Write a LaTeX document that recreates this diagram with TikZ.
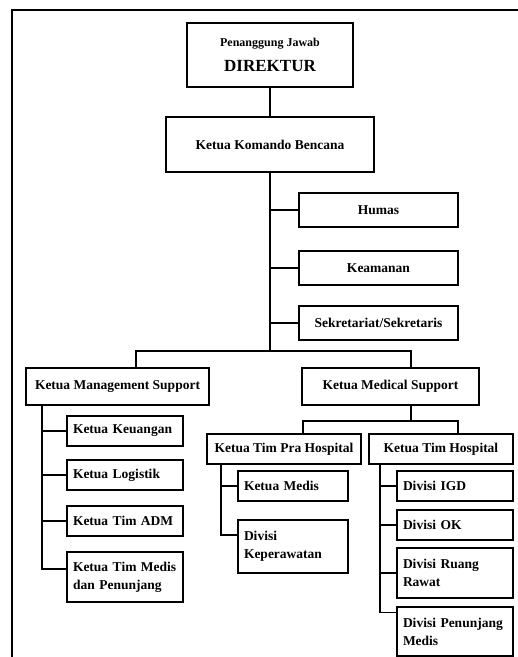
\documentclass[tikz,border=0pt]{standalone}
\usepackage{fontspec}
\setmainfont{Liberation Serif}

\begin{document}
\begin{tikzpicture}[
    x=1pt, y=-1pt,
    garis/.style={line width=1.4pt},
    kotak/.style={draw, line width=1.4pt, inner sep=3pt, align=center,
        font=\bfseries\fontsize{13.5}{18}\selectfont},
    staf/.style={kotak, minimum width=159, minimum height=34},
    kiri/.style={kotak, align=left, inner xsep=6pt, text width=#1}
]

% Cadre
\useasboundingbox (0,0) rectangle (518,657);
\draw[garis] (12,657) |- (518,10);

% Direction
\node[kotak, minimum width=166, minimum height=64] (dir) at (270,55)
    {{\fontsize{12}{14}\selectfont Penanggung Jawab}\\[7pt]{\fontsize{17}{20}\selectfont DIREKTUR}};
\node[kotak, minimum width=208, minimum height=55] (kom) at (270,144.5) {Ketua Komando Bencana};

% Staf
\node[staf] (hum) at (378.5,210) {Humas};
\node[staf] (kea) at (378.5,268) {Keamanan};
\node[staf] (sek) at (378.5,323) {Sekretariat/Sekretaris};

% Support
\node[kotak, minimum width=183, minimum height=37] (mgt) at (117.5,386.5) {Ketua Management Support};
\node[kotak, minimum width=177, minimum height=37] (med) at (390.5,386.5) {Ketua Medical Support};

% Management Support
\node[kiri=104pt, minimum height=30] (keu) at (125,431) {Ketua Keuangan};
\node[kiri=104pt, minimum height=30] (log) at (125,475) {Ketua Logistik};
\node[kiri=104pt, minimum height=30] (adm) at (125,521) {Ketua Tim ADM};
\node[kiri=104pt, minimum height=50] (tmp) at (125,577) {Ketua Tim Medis\\dan Penunjang};

% Medical Support
\node[kotak, minimum width=154, minimum height=30] (pra) at (284,449) {Ketua Tim Pra Hospital};
\node[kotak, minimum width=144, minimum height=30] (hos) at (441,449) {Ketua Tim Hospital};
\node[kiri=98pt, minimum height=30] (kmd) at (293,486) {Ketua Medis};
\node[kiri=98pt, minimum height=53] (kep) at (293,546.5) {Divisi\\Keperawatan};
\node[kiri=104pt, minimum height=30] (igd) at (455,486) {Divisi IGD};
\node[kiri=104pt, minimum height=30] (dok) at (455,525) {Divisi OK};
\node[kiri=104pt, minimum height=50] (rr) at (455,573) {Divisi Ruang\\Rawat};
\node[kiri=104pt, minimum height=49] (pm) at (455,631.5) {Divisi Penunjang\\Medis};

% Liaisons
\coordinate (bM) at (136,351);
\coordinate (bD) at (411,351);
\coordinate (kP) at (303,421);
\coordinate (kH) at (458,421);
\coordinate (sM) at (42,0);
\coordinate (sP) at (221,0);
\coordinate (sH) at (380,0);

\draw[garis] (dir) -- (kom);
\draw[garis] (kom.south) -- (kom.south |- bM);
\foreach \n in {hum,kea,sek}
    \draw[garis] (kom.south |- \n.west) -- (\n.west);
\draw[garis] (bM |- mgt.north) -- (bM) -- (bD) -- (bD |- med.north);

\draw[garis] (sM |- mgt.south) |- ([yshift=8pt]tmp.west);
\foreach \n in {keu,log,adm}
    \draw[garis] (sM |- \n.west) -- (\n.west);

\draw[garis] (bD |- med.south) -- (bD |- kP);
\draw[garis] (kP |- pra.north) -- (kP) -- (kH) -- (kH |- hos.north);

\draw[garis] (sP |- pra.south) |- ([yshift=11.5pt]kep.west);
\draw[garis] (sP |- kmd.west) -- (kmd.west);

\draw[garis] (sH |- hos.south) |- ([yshift=19pt]pm.west);
\foreach \n in {igd,dok,rr}
    \draw[garis] (sH |- \n.west) -- (\n.west);

\end{tikzpicture}
\end{document}
